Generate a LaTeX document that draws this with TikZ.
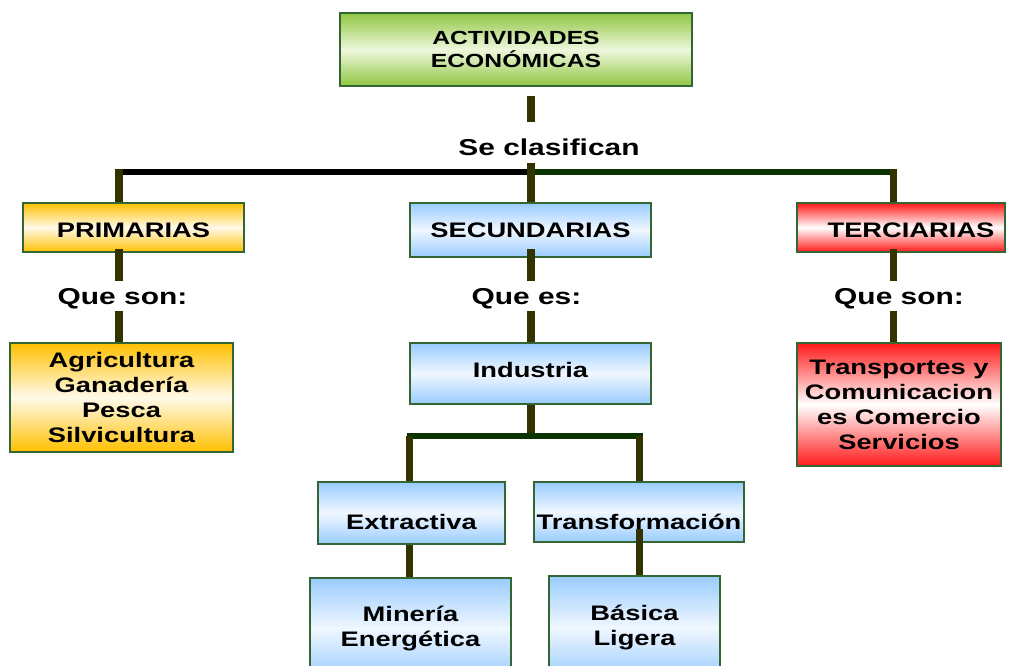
\documentclass[tikz,border=0pt]{standalone}
\usepackage{fontspec}
\setmainfont{Liberation Sans}[FakeStretch=1.3]
\usetikzlibrary{calc}
\definecolor{barc}{HTML}{333300}
\definecolor{busg}{HTML}{0A3300}
\definecolor{edgec}{HTML}{336633}
\definecolor{cgreen}{HTML}{8FC641}
\definecolor{cgreenl}{HTML}{EEF7DD}
\definecolor{cgold}{HTML}{FFC000}
\definecolor{cgoldl}{HTML}{FFFAEA}
\definecolor{cblue}{HTML}{99CCFF}
\definecolor{cbluel}{HTML}{F0F7FF}
\definecolor{cred}{HTML}{FF1A1A}
\definecolor{credl}{HTML}{FFFFFF}
\tikzset{
  box/.style={draw=edgec, line width=1.5pt, inner sep=0pt, align=center,
    font=\bfseries\fontsize{21}{25}\selectfont},
  gbox/.style={box, top color=cgreen, bottom color=cgreen, middle color=cgreenl},
  obox/.style={box, top color=cgold, bottom color=cgold, middle color=cgoldl},
  bbox/.style={box, top color=cblue, bottom color=cblue, middle color=cbluel},
  rbox/.style={box, top color=cred, bottom color=cred, middle color=credl},
  lbl/.style={inner sep=0pt, font=\bfseries\fontsize{23}{27}\selectfont,
    text height=16.5pt, text depth=0pt, minimum height=30pt},
  bar/.style={draw=barc, line width=7.5pt},
  busk/.style={draw=black, line width=6pt},
  busgr/.style={draw=busg, line width=6pt, line cap=rect},
}
\begin{document}
\begin{tikzpicture}[x=1pt,y=-1pt]
\useasboundingbox (0,0) rectangle (1009,666);
% boxes
\node[gbox, minimum width=352pt, minimum height=73pt,
  font=\bfseries\fontsize{19}{23}\selectfont] (act) at (516,49.5) {ACTIVIDADES\\ECONÓMICAS};
\node[obox, minimum width=221pt, minimum height=49pt, text height=19pt, text depth=0pt] (prim) at (133.5,227.5) {PRIMARIAS};
\node[bbox, minimum width=241pt, minimum height=54pt, text height=15pt, text depth=0pt] (sec) at (530.5,230) {SECUNDARIAS};
\node[rbox, minimum width=208pt, minimum height=49pt, text height=19pt, text depth=0pt] (ter) at (901,227.5) {\hspace*{20pt}TERCIARIAS};
\node[obox, minimum width=223pt, minimum height=109pt] (agr) at (121.5,397.5) {Agricultura\\Ganadería\\Pesca\\Silvicultura};
\node[bbox, minimum width=241pt, minimum height=61pt, text height=15pt, text depth=8pt] (ind) at (530.5,373.5) {Industria};
\node[rbox, minimum width=204pt, minimum height=123pt] (trn) at (899,404.5) {Transportes y\\Comunicacion\\es Comercio\\Servicios};
\node[bbox, minimum width=187pt, minimum height=62pt, text height=32pt, text depth=0pt] (ext) at (411.5,513) {Extractiva};
\node[bbox, minimum width=210pt, minimum height=60pt, text height=34pt, text depth=0pt] (trf) at (639,512) {Transformación};
\node[bbox, minimum width=201pt, minimum height=101pt] (min) at (410.5,628.5) {Minería\\Energética};
\node[bbox, minimum width=171pt, minimum height=103pt] (bas) at (634.5,627.5) {Básica\\Ligera};
% labels
\node[lbl] (sc) at (549,147.5) {Se clasifican};
\node[lbl] (q1) at (122.5,296) {Que son:};
\node[lbl] (q2) at (526.5,296) {Que es:};
\node[lbl] (q3) at (899,296) {Que son:};
% junction coordinates
\coordinate (xL) at (119,171.5);
\coordinate (xM) at (531,171.5);
\coordinate (xR) at (893.5,171.5);
\coordinate (j2) at (531,436);
\coordinate (xE) at (409.5,436);
\coordinate (xT) at (639.5,436);
% connectors
\draw[bar] ($(act.south -| xM)+(0,9)$) -- ($(sc.north -| xM)+(0,-10)$);
\draw[busk] (xL) -- (xM);
\draw[busgr] (xM) -- (xR);
\draw[bar] (sc.south -| xM) -- (sec.north -| xM);
\draw[bar] ($(xL)+(0,-3)$) -- (prim.north -| xL);
\draw[bar] ($(xR)+(0,-3)$) -- (ter.north -| xR);
\draw[bar] ($(prim.south -| xL)+(0,-4)$) -- (q1.north -| xL);
\draw[bar] (q1.south -| xL) -- (agr.north -| xL);
\draw[bar] ($(sec.south -| xM)+(0,-9)$) -- (q2.north -| xM);
\draw[bar] (q2.south -| xM) -- (ind.north -| xM);
\draw[bar] ($(ter.south -| xR)+(0,-4)$) -- (q3.north -| xR);
\draw[bar] (q3.south -| xR) -- (trn.north -| xR);
\draw[bar] (ind.south -| j2) -- (j2);
\draw[busgr] (xE) -- (xT);
\draw[bar] (xE) -- (ext.north -| xE);
\draw[bar] (xT) -- (trf.north -| xT);
\draw[bar] (ext.south -| xE) -- (min.north -| xE);
\draw[bar] ($(trf.south -| xT)+(0,-14)$) -- (bas.north -| xT);
\end{tikzpicture}
\end{document}
